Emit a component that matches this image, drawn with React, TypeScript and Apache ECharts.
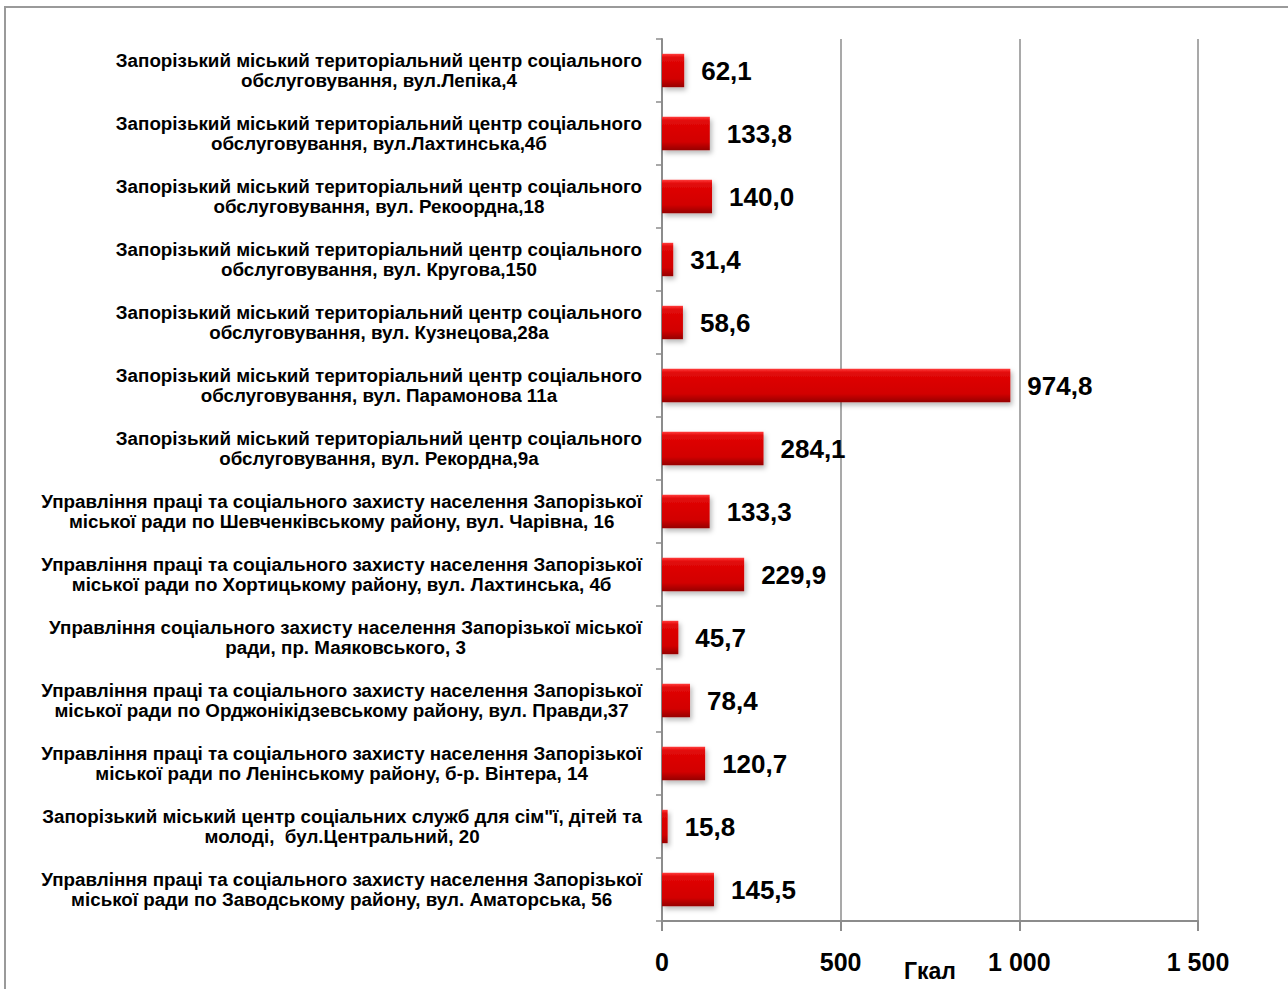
import React, { useEffect, useRef } from "react";
import * as echarts from "echarts";

const categories: string[] = [
  "Запорізький міський територіальний центр соціального\nобслуговування, вул.Лепіка,4",
  "Запорізький міський територіальний центр соціального\nобслуговування, вул.Лахтинська,4б",
  "Запорізький міський територіальний центр соціального\nобслуговування, вул. Рекоордна,18",
  "Запорізький міський територіальний центр соціального\nобслуговування, вул. Кругова,150",
  "Запорізький міський територіальний центр соціального\nобслуговування, вул. Кузнецова,28а",
  "Запорізький міський територіальний центр соціального\nобслуговування, вул. Парамонова 11а",
  "Запорізький міський територіальний центр соціального\nобслуговування, вул. Рекордна,9а",
  "Управління праці та соціального захисту населення Запорізької\nміської ради по Шевченківському району, вул. Чарівна, 16",
  "Управління праці та соціального захисту населення Запорізької\nміської ради по Хортицькому району, вул. Лахтинська, 4б",
  "Управління соціального захисту населення Запорізької міської\nради, пр. Маяковського, 3",
  "Управління праці та соціального захисту населення Запорізької\nміської ради по Орджонікідзевському району, вул. Правди,37",
  "Управління праці та соціального захисту населення Запорізької\nміської ради по Ленінському району, б-р. Вінтера, 14",
  "Запорізький міський центр соціальних служб для сім\"ї, дітей та\nмолоді,  бул.Центральний, 20",
  "Управління праці та соціального захисту населення Запорізької\nміської ради по Заводському району, вул. Аматорська, 56",
];

const values: number[] = [62.1, 133.8, 140.0, 31.4, 58.6, 974.8, 284.1, 133.3, 229.9, 45.7, 78.4, 120.7, 15.8, 145.5];

const axisName = "Гкал";
const axisMin = 0;
const axisMax = 1500;
const axisStep = 500;

const FONT = "'Liberation Sans', Arial, sans-serif";

export default function App() {
  const ref = useRef<HTMLDivElement>(null);

  useEffect(() => {
    if (!ref.current) return;
    const chart = echarts.init(ref.current, null, { renderer: "svg" });
    chart.setOption({
      animation: false,
      backgroundColor: "#ffffff",
      textStyle: { fontFamily: FONT },
      graphic: [
        {
          type: "rect",
          shape: { x: 5, y: 7, width: 1320, height: 1020 },
          style: { fill: "none", stroke: "#9a9a9a", lineWidth: 2 },
          silent: true,
        },
      ],
      grid: {
        left: 662,
        right: 90,
        top: 39,
        bottom: 68,
        containLabel: false,
        outerBoundsMode: "none",
      },
      xAxis: {
        type: "value",
        min: axisMin,
        max: axisMax,
        interval: axisStep,
        name: axisName,
        nameLocation: "middle",
        nameGap: 38,
        nameMoveOverlap: false,
        nameTextStyle: { fontFamily: FONT, fontWeight: "bold", fontSize: 23, color: "#000" },
        axisLine: { show: true, lineStyle: { color: "#8c8c8c", width: 2 } },
        axisTick: { show: true, length: 10, lineStyle: { color: "#8c8c8c", width: 2 } },
        splitLine: { show: true, lineStyle: { color: "#8c8c8c", width: 1.5 } },
        axisLabel: {
          margin: 28,
          fontFamily: FONT,
          fontWeight: "bold",
          fontSize: 25,
          color: "#000",
          formatter: (v: number) => String(v).replace(/\B(?=(\d{3})+(?!\d))/g, " "),
        },
      },
      yAxis: {
        type: "category",
        data: categories,
        inverse: true,
        axisLine: { show: true, lineStyle: { color: "#8c8c8c", width: 2 } },
        axisTick: { show: true, length: 6, inside: false, lineStyle: { color: "#8c8c8c", width: 1.5 } },
        splitLine: { show: false },
        axisLabel: {
          margin: 20,
          align: "right",
          color: "#000",
          formatter: (v: string) =>
            v
              .split("\n")
              .map((l) => `{c|${l}}`)
              .join("\n"),
          rich: {
            c: {
              align: "center",
              fontFamily: FONT,
              fontWeight: "bold",
              fontSize: 18.8,
              lineHeight: 20,
              color: "#000",
            },
          },
        },
      },
      series: [
        {
          type: "bar",
          data: values,
          barWidth: "53%",
          itemStyle: {
            color: new echarts.graphic.LinearGradient(0, 0, 0, 1, [
              { offset: 0, color: "#ff3a3a" },
              { offset: 0.12, color: "#e10808" },
              { offset: 0.75, color: "#d20000" },
              { offset: 1, color: "#960000" },
            ]),
            shadowColor: "rgba(0,0,0,0.28)",
            shadowBlur: 5,
            shadowOffsetX: 2,
            shadowOffsetY: 3,
          },
          label: {
            show: true,
            position: "right",
            distance: 17,
            fontFamily: FONT,
            fontWeight: "bold",
            fontSize: 26,
            color: "#000",
            formatter: (p: any) => Number(p.value).toFixed(1).replace(".", ","),
          },
        },
      ],
    });
    return () => chart.dispose();
  }, []);

  return (
    <div
      ref={ref}
      style={{ position: "fixed", left: 0, top: 0, width: 1288, height: 989, background: "#fff" }}
    />
  );
}
